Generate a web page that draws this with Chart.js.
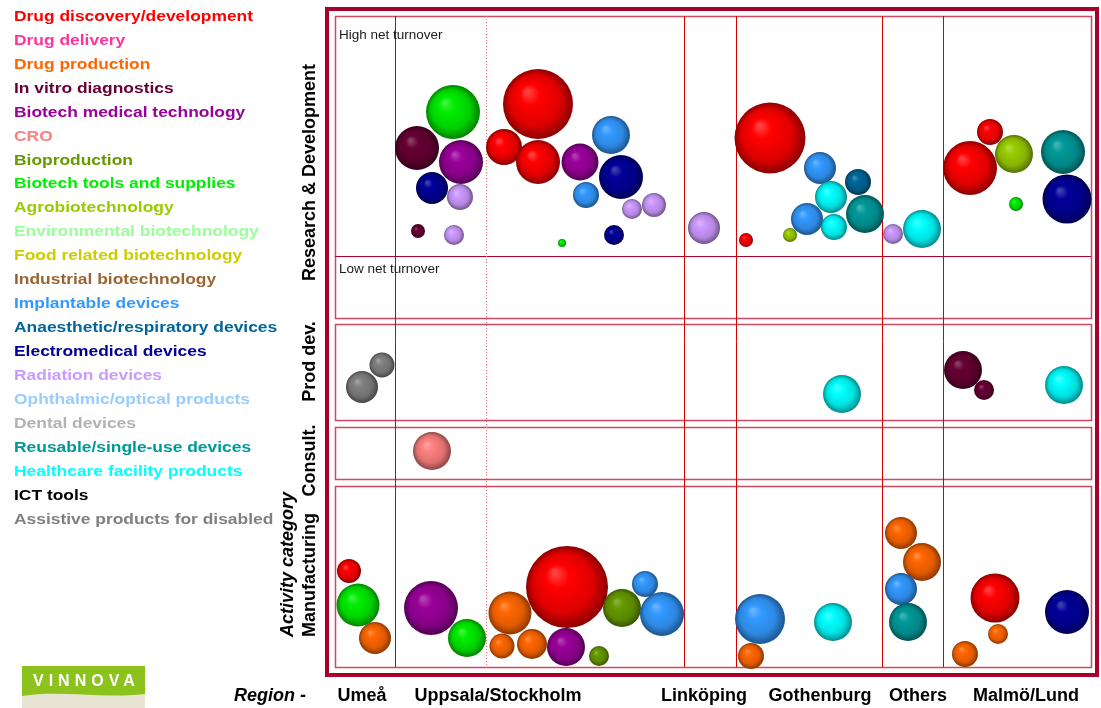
<!DOCTYPE html>
<html>
<head>
<meta charset="utf-8">
<script src="https://cdn.jsdelivr.net/npm/chart.js@4.4.1/dist/chart.umd.min.js"></script>
<style>
  html, body { margin: 0; padding: 0; background: #fff; }
  #wrap { width: 1101px; height: 708px; }
</style>
</head>
<body>
<div id="wrap"><canvas id="bubbleChart" width="1101" height="708"></canvas></div>
<script>
const FONT = '"Liberation Sans", Arial, Helvetica, sans-serif';

const categories = [
    'Drug discovery/development', 'Drug delivery', 'Drug production', 'In vitro diagnostics',
    'Biotech medical technology', 'CRO', 'Bioproduction', 'Biotech tools and supplies',
    'Agrobiotechnology', 'Environmental biotechnology', 'Food related biotechnology',
    'Industrial biotechnology', 'Implantable devices', 'Anaesthetic/respiratory devices',
    'Electromedical devices', 'Radiation devices', 'Ophthalmic/optical products', 'Dental devices',
    'Reusable/single-use devices', 'Healthcare facility products', 'ICT tools',
    'Assistive products for disabled'
];
const categoryColors = [
    '#ff0000', '#ff3399', '#ff6600', '#660033',
    '#990099', '#ff8080', '#669900', '#00ee00',
    '#99cc00', '#99ff99', '#cccc00',
    '#996633', '#3399ff', '#006699',
    '#000099', '#cc99ff', '#99ccff', '#b2b2b2',
    '#009999', '#00ffff', '#000000',
    '#808080'
];

// bubbles per category: [x, y, size]
const drugDiscovery = [[203, 88, 35], [169, 131, 18], [203, 146, 22], [435, 122, 35.5], [411, 224, 7],
    [655, 116, 13], [635, 152, 27], [14, 555, 12], [232, 571, 41], [660, 582, 24.5]];
const drugDelivery = [];
const drugProduction = [[40, 622, 16], [175, 597, 21.5], [167, 630, 12.5], [197, 628, 15], [416, 640, 13],
    [566, 517, 16], [587, 546, 19], [663, 618, 10], [630, 638, 13]];
const inVitroDiagnostics = [[82, 132, 22], [83, 215, 7], [628, 354, 19], [649, 374, 10]];
const biotechMedTech = [[126, 146, 22], [245, 146, 18.5], [96, 592, 27], [231, 631, 19]];
const cro = [[97, 435, 19]];
const bioproduction = [[264, 640, 10], [287, 592, 19]];
const biotechTools = [[118, 96, 27], [227, 227, 4], [681, 188, 7], [23, 589, 21.5], [132, 622, 19]];
const agrobiotech = [[455, 219, 7], [679, 138, 19]];
const environmentalBiotech = [];
const foodBiotech = [];
const industrialBiotech = [];
const implantable = [[276, 119, 19], [251, 179, 13], [485, 152, 16], [472, 203, 16], [310, 568, 13],
    [327, 598, 22], [425, 603, 25], [566, 573, 16]];
const anaesthetic = [[523, 166, 13]];
const electromedical = [[97, 172, 16], [286, 161, 22], [279, 219, 10], [732, 183, 24.5], [732, 596, 22]];
const radiation = [[125, 181, 13], [119, 219, 10], [297, 193, 10], [319, 189, 12], [369, 212, 16], [558, 218, 10]];
const ophthalmic = [];
const dental = [];
const reusable = [[530, 198, 19], [728, 136, 22], [573, 606, 19]];
const healthcareFacility = [[496, 181, 16], [499, 211, 13], [587, 213, 19], [507, 378, 19], [729, 369, 19], [498, 606, 19]];
const ictTools = [];
const assistive = [[27, 371, 16], [47, 349, 12.5]];

const seriesByCategory = [
    drugDiscovery, drugDelivery, drugProduction, inVitroDiagnostics, biotechMedTech, cro,
    bioproduction, biotechTools, agrobiotech, environmentalBiotech, foodBiotech, industrialBiotech,
    implantable, anaesthetic, electromedical, radiation, ophthalmic, dental, reusable,
    healthcareFacility, ictTools, assistive
];

// regions along x, activity rows along y
const regions = ['Umeå', 'Uppsala/Stockholm', 'Linköping', 'Gothenburg', 'Others', 'Malmö/Lund'];
const regionLabelX = [27, 163, 369, 485, 583, 691];
const regionBounds = [60, 349, 401, 547, 608];
const uppsalaStockholmSplit = 151;

const activities = ['Research & Development', 'Prod dev.', 'Consult.', 'Manufacturing'];
const activityRows = [[0, 302], [308, 404], [411, 463], [470, 651]];
const activityLabelY = [156.5, 345.5, 444.5, 621];
const turnoverSplit = 240;

function mix(hex, target, t) {
    const a = parseInt(hex.slice(1), 16), b = parseInt(target.slice(1), 16);
    const ch = (v, s) => (v >> s) & 255;
    const c = [16, 8, 0].map(s => Math.round(ch(a, s) + (ch(b, s) - ch(a, s)) * t));
    return `rgb(${c[0]},${c[1]},${c[2]})`;
}

function drawSphere(ctx, x, y, r, color) {
    const g = ctx.createRadialGradient(x - r * 0.3, y - r * 0.35, r * 0.05, x, y, r);
    g.addColorStop(0, mix(color, '#ffffff', 0.25));
    g.addColorStop(0.25, color);
    g.addColorStop(0.7, mix(color, '#000000', 0.12));
    g.addColorStop(1, mix(color, '#000000', 0.45));
    ctx.beginPath();
    ctx.arc(x, y, r, 0, Math.PI * 2);
    ctx.fillStyle = g;
    ctx.fill();
}

// panels, turnover split and region dividers behind the bubbles
const gridPlugin = {
    id: 'grid',
    beforeDatasetsDraw(chart) {
        const { ctx, chartArea: a, scales: { x, y } } = chart;
        ctx.save();

        // outer frame
        ctx.strokeStyle = '#a8002a';
        ctx.lineWidth = 4;
        ctx.strokeRect(a.left - 8, a.top - 7, a.right - a.left + 14, a.bottom - a.top + 15);

        // activity panels
        ctx.strokeStyle = '#cc4a60';
        ctx.lineWidth = 1.5;
        activityRows.forEach(([t, b]) => {
            const y0 = y.getPixelForValue(t), y1 = y.getPixelForValue(b);
            ctx.strokeRect(a.left + 0.5, y0 + 0.5, a.right - a.left, y1 - y0);
        });

        ctx.strokeStyle = '#b0002a';
        ctx.lineWidth = 1;
        const ys = Math.round(y.getPixelForValue(turnoverSplit)) + 0.5;
        ctx.beginPath();
        ctx.moveTo(a.left, ys);
        ctx.lineTo(a.right, ys);
        ctx.stroke();

        // region dividers
        ctx.strokeStyle = '#d40000';
        regionBounds.forEach(v => {
            const px = Math.round(x.getPixelForValue(v)) + 0.5;
            ctx.beginPath();
            ctx.moveTo(px, a.top);
            ctx.lineTo(px, a.bottom);
            ctx.stroke();
        });

        ctx.strokeStyle = '#ff7070';
        ctx.setLineDash([1, 2]);
        const pd = Math.round(x.getPixelForValue(uppsalaStockholmSplit)) + 0.5;
        ctx.beginPath();
        ctx.moveTo(pd, a.top);
        ctx.lineTo(pd, a.bottom);
        ctx.stroke();
        ctx.restore();
    }
};

// shaded spheres at the positions the bubble controller computed
const spherePlugin = {
    id: 'spheres',
    afterDatasetsDraw(chart) {
        const ctx = chart.ctx;
        ctx.save();
        chart.data.datasets.forEach((ds, i) => {
            chart.getDatasetMeta(i).data.forEach(el => {
                drawSphere(ctx, el.x, el.y, el.options.radius, ds.sphereColor);
            });
        });
        ctx.restore();
    }
};

// category list, axis captions, region names and logo
const labelPlugin = {
    id: 'labels',
    afterDraw(chart) {
        const { ctx, chartArea: a, scales: { x, y } } = chart;
        ctx.save();

        ctx.font = `bold 15px ${FONT}`;
        ctx.textBaseline = 'alphabetic';
        const sx = 239 / ctx.measureText(categories[0]).width;
        categories.forEach((name, i) => {
            ctx.save();
            ctx.translate(14, 20.8 + i * 23.95);
            ctx.scale(sx, 1);
            ctx.fillStyle = categoryColors[i];
            ctx.fillText(name, 0, 0);
            ctx.restore();
        });

        ctx.fillStyle = '#1a1a1a';
        ctx.font = `13.5px ${FONT}`;
        ctx.fillText('High net turnover', a.left + 4, y.getPixelForValue(0) + 23);
        ctx.fillText('Low net turnover', a.left + 4, y.getPixelForValue(turnoverSplit) + 16.5);

        // rotated activity captions
        ctx.fillStyle = '#000';
        ctx.font = `bold 18px ${FONT}`;
        activities.forEach((name, i) => {
            ctx.save();
            ctx.translate(315, y.getPixelForValue(activityLabelY[i]));
            ctx.rotate(-Math.PI / 2);
            ctx.textAlign = i === activities.length - 1 ? 'left' : 'center';
            ctx.fillText(name, 0, 0);
            ctx.restore();
        });
        ctx.save();
        ctx.translate(293, y.getPixelForValue(activityLabelY[3]));
        ctx.rotate(-Math.PI / 2);
        ctx.font = `italic bold 18px ${FONT}`;
        ctx.textAlign = 'left';
        ctx.fillText('Activity category', 0, 0);
        ctx.restore();

        // region names
        ctx.font = `italic bold 18px ${FONT}`;
        ctx.textAlign = 'left';
        ctx.fillText('Region -', 234, 701);
        ctx.font = `bold 18px ${FONT}`;
        ctx.textAlign = 'center';
        regions.forEach((name, i) => {
            ctx.fillText(name, x.getPixelForValue(regionLabelX[i]), 701);
        });

        // VINNOVA logo
        ctx.fillStyle = '#8cc21c';
        ctx.fillRect(22, 666, 123, 42);
        ctx.fillStyle = '#e8e4d3';
        ctx.beginPath();
        ctx.moveTo(22, 696);
        ctx.bezierCurveTo(60, 690, 100, 699, 145, 694);
        ctx.lineTo(145, 708);
        ctx.lineTo(22, 708);
        ctx.closePath();
        ctx.fill();
        ctx.fillStyle = '#fff';
        ctx.font = `bold 16px ${FONT}`;
        ctx.textAlign = 'left';
        ctx.letterSpacing = '5px';
        ctx.fillText('VINNOVA', 33, 686);
        ctx.restore();
    }
};

new Chart(document.getElementById('bubbleChart'), {
    type: 'bubble',
    data: {
        datasets: categories.map((name, i) => ({
            label: name,
            data: seriesByCategory[i].map(([vx, vy, r]) => ({ x: vx, y: vy, r: r })),
            backgroundColor: 'rgba(0, 0, 0, 0)',
            borderWidth: 0,
            hoverBorderWidth: 0,
            clip: false,
            sphereColor: categoryColors[i]
        }))
    },
    options: {
        responsive: false,
        animation: false,
        events: [],
        layout: {
            autoPadding: false,
            padding: { left: 335, top: 16, right: 10, bottom: 41 }
        },
        plugins: {
            legend: { display: false },
            tooltip: { enabled: false }
        },
        scales: {
            x: { type: 'linear', min: 0, max: 756, display: false },
            y: { type: 'linear', min: 0, max: 651, reverse: true, display: false }
        }
    },
    plugins: [gridPlugin, spherePlugin, labelPlugin]
});
</script>
</body>
</html>
